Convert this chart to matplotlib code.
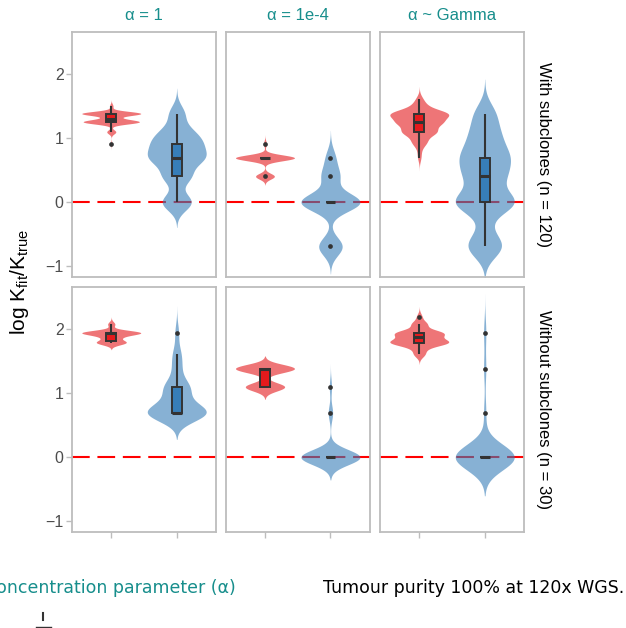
import numpy as np
import matplotlib
matplotlib.use("Agg")
import matplotlib.pyplot as plt
from matplotlib.patches import Rectangle
from matplotlib.lines import Line2D

plt.rcParams['font.family'] = ['Liberation Sans', 'DejaVu Sans']
plt.rcParams['mathtext.fontset'] = 'custom'
plt.rcParams['mathtext.rm'] = 'Liberation Sans'
plt.rcParams['mathtext.it'] = 'Liberation Sans'

# ---------------- data (log K_fit / K_true, value -> count) ----------------
col_labels = ["α = 1", "α = 1e-4", "α ~ Gamma"]
row_labels = ["With subclones (n = 120)", "Without subclones (n = 30)"]
y_ticks = [-1, 0, 1, 2]
reference_line = 0.0

# with subclones, alpha = 1
w_a1_red_vals = [0.916, 1.099, 1.253, 1.30, 1.386, 1.504]
w_a1_red_cnts = [1, 8, 46, 10, 52, 3]
w_a1_blue_vals = [0.0, 0.405, 0.693, 0.916, 1.099, 1.386]
w_a1_blue_cnts = [20, 18, 32, 24, 16, 10]
# with subclones, alpha = 1e-4
w_a4_red_vals = [0.405, 0.693, 0.916]
w_a4_red_cnts = [28, 88, 4]
w_a4_blue_vals = [-0.693, 0.0, 0.405, 0.693]
w_a4_blue_cnts = [26, 65, 19, 10]
# with subclones, alpha ~ Gamma
w_ag_red_vals = [0.693, 0.8, 0.916, 0.98, 1.099, 1.2, 1.253, 1.335, 1.386, 1.504, 1.609]
w_ag_red_cnts = [2, 2, 6, 6, 22, 6, 24, 6, 34, 8, 4]
w_ag_blue_vals = [-0.693, -0.405, 0.0, 0.405, 0.693, 0.916, 1.099, 1.386]
w_ag_blue_cnts = [18, 4, 32, 18, 20, 8, 10, 10]
# without subclones, alpha = 1
wo_a1_red_vals = [1.792, 1.872, 1.946, 2.079]
wo_a1_red_cnts = [8, 4, 16, 2]
wo_a1_blue_vals = [0.693, 0.916, 1.099, 1.386, 1.609, 1.946]
wo_a1_blue_cnts = [16, 3, 6, 2, 2, 1]
# without subclones, alpha = 1e-4
wo_a4_red_vals = [1.099, 1.386]
wo_a4_red_cnts = [12, 18]
wo_a4_blue_vals = [0.0, 0.693, 1.099]
wo_a4_blue_cnts = [27, 2, 1]
# without subclones, alpha ~ Gamma
wo_ag_red_vals = [1.609, 1.705, 1.792, 1.872, 1.946, 2.079, 2.197]
wo_ag_red_cnts = [2, 2, 10, 4, 8, 3, 1]
wo_ag_blue_vals = [0.0, 0.693, 1.386, 1.946]
wo_ag_blue_cnts = [27, 1, 1, 1]

panels = [
    [[(w_a1_red_vals, w_a1_red_cnts), (w_a1_blue_vals, w_a1_blue_cnts)],
     [(w_a4_red_vals, w_a4_red_cnts), (w_a4_blue_vals, w_a4_blue_cnts)],
     [(w_ag_red_vals, w_ag_red_cnts), (w_ag_blue_vals, w_ag_blue_cnts)]],
    [[(wo_a1_red_vals, wo_a1_red_cnts), (wo_a1_blue_vals, wo_a1_blue_cnts)],
     [(wo_a4_red_vals, wo_a4_red_cnts), (wo_a4_blue_vals, wo_a4_blue_cnts)],
     [(wo_ag_red_vals, wo_ag_red_cnts), (wo_ag_blue_vals, wo_ag_blue_cnts)]],
]

# ---------------- style ----------------
colors = ["#E41A1C", "#377EB8"]
teal = "#178E8C"
border = "#BDBDBD"
dark = "#333333"

W, H = 626, 628
fig = plt.figure(figsize=(W / 100, H / 100), dpi=100)

col_left = [72, 225.7, 380]
panel_w = 144
row_top = [31.7, 286.7]
panel_h = 245.3
ylim = (-1.17, 2.665)
xlim = (0.4, 2.6)


def nrd0(x):
    hi = np.std(x, ddof=1)
    q75, q25 = np.percentile(x, [75, 25])
    lo = min(hi, (q75 - q25) / 1.34)
    if lo == 0:
        lo = hi
    return 0.9 * lo * len(x) ** -0.2


def draw_violin(ax, pos, vals, cnts, color):
    x = np.repeat(np.array(vals, float), cnts)
    bw = nrd0(x)
    grid = np.linspace(x.min() - 3 * bw, x.max() + 3 * bw, 512)
    v = np.array(vals, float)[:, None]
    c = np.array(cnts, float)[:, None]
    dens = (c * np.exp(-0.5 * ((grid[None, :] - v) / bw) ** 2)).sum(0)
    half = 0.45 * dens / dens.max()
    ax.fill_betweenx(grid, pos - half, pos + half, color=color, alpha=0.6,
                     lw=0, zorder=2)


def draw_box(ax, pos, vals, cnts, color):
    x = np.sort(np.repeat(np.array(vals, float), cnts))
    q1, med, q3 = np.percentile(x, [25, 50, 75])
    iqr = q3 - q1
    lo_f, hi_f = q1 - 1.5 * iqr, q3 + 1.5 * iqr
    inside = x[(x >= lo_f) & (x <= hi_f)]
    wlo, whi = inside.min(), inside.max()
    outl = np.unique(x[(x < lo_f) | (x > hi_f)])
    bw = 0.15
    ax.plot([pos, pos], [q3, whi], color=dark, lw=1.5, zorder=3,
            solid_capstyle='butt')
    ax.plot([pos, pos], [wlo, q1], color=dark, lw=1.5, zorder=3,
            solid_capstyle='butt')
    ax.add_patch(Rectangle((pos - bw / 2, q1), bw, q3 - q1, facecolor=color,
                           edgecolor=dark, lw=1.4, zorder=4))
    ax.plot([pos - bw / 2, pos + bw / 2], [med, med], color=dark, lw=2.2,
            zorder=5, solid_capstyle='butt')
    if len(outl):
        ax.plot(np.full(len(outl), pos), outl, 'o', color=dark, ms=3.4,
                mec='none', zorder=6)


for r in range(2):
    for c in range(3):
        left = col_left[c] / W
        bottom = 1 - (row_top[r] + panel_h) / H
        ax = fig.add_axes([left, bottom, panel_w / W, panel_h / H])
        ax.set_xlim(*xlim)
        ax.set_ylim(*ylim)
        ax.axhline(reference_line, color="#FF0000", lw=1.5,
                   dashes=(8.5, 3.7), zorder=1)
        for k, (vals, cnts) in enumerate(panels[r][c]):
            draw_violin(ax, k + 1, vals, cnts, colors[k])
        for k, (vals, cnts) in enumerate(panels[r][c]):
            draw_box(ax, k + 1, vals, cnts, colors[k])
        for s in ax.spines.values():
            s.set_color(border)
            s.set_linewidth(1.3)
        ax.set_xticks([1, 2])
        ax.set_xticklabels([])
        ax.set_yticks(y_ticks)
        ax.set_yticklabels(["\u22121", "0", "1", "2"])
        ax.tick_params(axis='both', color=border, length=4, width=1.0,
                       labelsize=11.5, labelcolor="#4D4D4D", pad=2)
        if c != 0:
            ax.tick_params(axis='y', left=False, labelleft=False)
        if r != 1:
            ax.tick_params(axis='x', bottom=False)
        ax.set_zorder(1)
        if r == 0:
            fig.text((col_left[c] + panel_w / 2) / W, 1 - 19.5 / H,
                     col_labels[c], ha='center', va='baseline', color=teal,
                     fontsize=12)
        if c == 2:
            fig.text(544 / W, 1 - (row_top[r] + panel_h / 2) / H,
                     row_labels[r], rotation=270, ha='center', va='center',
                     color='black', fontsize=12)

fig.text(20 / W, 1 - 282 / H, r"log $\mathregular{K_{fit}/K_{true}}$",
         rotation=90, ha='center', va='center', fontsize=15, color='black')

fig.text(236 / W, 1 - 593 / H, "Concentration parameter (α)", ha='right',
         va='baseline', color=teal, fontsize=12.5, family='DejaVu Sans')
fig.text(323 / W, 1 - 593 / H, "Tumour purity 100% at 120x WGS.", ha='left',
         va='baseline', color='black', fontsize=12.5, family='DejaVu Sans')

# clipped legend key at the bottom edge
fig.add_artist(Line2D([43 / W, 43 / W], [1 - 613 / H, 1 - 620 / H],
                      color=dark, lw=1.5, transform=fig.transFigure))
fig.add_artist(Line2D([36 / W, 51 / W], [1 - 627 / H, 1 - 627 / H],
                      color=dark, lw=1.0, transform=fig.transFigure))

fig.savefig("out.png", dpi=100)
